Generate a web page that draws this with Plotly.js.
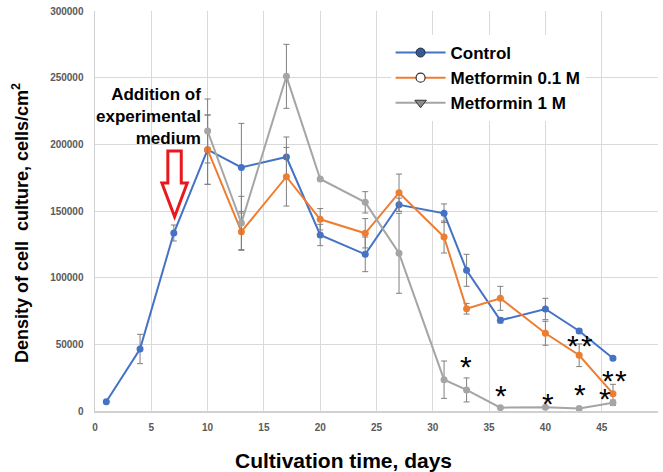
<!DOCTYPE html>
<html>
<head>
<meta charset="utf-8">
<script src="https://cdn.plot.ly/plotly-3.0.1.min.js"></script>
<style>html,body{margin:0;padding:0;background:#fff;}#chart{width:663px;height:472px;}</style>
</head>
<body>
<div id="chart"></div>
<script>
// ---- data ----
const controlDays = [1, 4, 7, 10, 13, 17, 20, 24, 27, 31, 33, 36, 40, 43, 46];
const controlValues = [7000, 46500, 133500, 196000, 182700, 190500, 132000, 117500, 154700, 148300, 105500, 68000, 76500, 60000, 39500];
const controlErrors = [0, 11000, 6000, 26000, 33000, 15000, 8000, 13000, 5000, 7000, 12000, 2000, 8000, 1500, 1000];

const met01Days = [10, 13, 17, 20, 24, 27, 31, 33, 36, 40, 43, 46];
const met01Values = [196000, 134500, 175700, 143800, 133300, 163700, 130500, 76700, 84500, 58300, 41800, 13000];
const met01Errors = [26000, 14000, 22000, 8000, 11000, 14000, 12000, 4000, 9000, 9000, 8500, 7000];

const met1Days = [10, 13, 17, 20, 24, 27, 31, 33, 36, 40, 43, 46];
const met1Values = [210000, 141000, 251000, 174000, 156500, 118300, 23500, 15800, 2500, 2800, 1800, 6200];
const met1Errors = [24000, 20000, 24000, 0, 8000, 30000, 14000, 9000, 0, 0, 0, 2000];

const seriesNames = ["Control", "Metformin 0.1 M", "Metformin 1 M"];
const xTicks = [0, 5, 10, 15, 20, 25, 30, 35, 40, 45, 50];
const yTicks = [0, 50000, 100000, 150000, 200000, 250000, 300000];

// significance marks (one asterisk each)
const starX = [32.95, 36.03, 40.2, 43.03, 45.33, 42.44, 43.65, 45.57, 46.75];
const starY = [36500, 14500, 9000, 15750, 12750, 52000, 52000, 26250, 26250];

// ---- styling ----
const colors = ["#4472C4", "#ED7D31", "#A5A5A5"];
const errColor = "#7F7F7F";
const FONT = "Liberation Sans, Arial, sans-serif";

function seriesTrace(x, y, e, color) {
  return {
    x: x, y: y, type: "scatter", mode: "lines+markers", showlegend: false,
    line: {color: color, width: 2},
    marker: {color: color, size: 7, symbol: "circle"},
    error_y: {type: "data", array: e, visible: true, color: errColor, thickness: 1, width: 3}
  };
}

const traces = [
  seriesTrace(controlDays, controlValues, controlErrors, colors[0]),
  seriesTrace(met01Days, met01Values, met01Errors, colors[1]),
  seriesTrace(met1Days, met1Values, met1Errors, colors[2]),
  {x: [null], y: [null], type: "scatter", mode: "lines+markers", name: seriesNames[0],
   line: {color: "#4472C4", width: 2}, marker: {symbol: "circle", size: 9, color: "#3A5A8C", line: {color: "#1F2F4F", width: 1}}},
  {x: [null], y: [null], type: "scatter", mode: "lines+markers", name: seriesNames[1],
   line: {color: "#ED7D31", width: 2}, marker: {symbol: "circle", size: 9, color: "#FFFFFF", line: {color: "#333333", width: 1.2}}},
  {x: [null], y: [null], type: "scatter", mode: "lines+markers", name: seriesNames[2],
   line: {color: "#A5A5A5", width: 2}, marker: {symbol: "triangle-down", size: 10, color: "#8C8C8C", line: {color: "#333333", width: 1}}}
];

const annotations = starX.map((sx, i) => ({
  x: sx, y: starY[i], xref: "x", yref: "y", text: "*", showarrow: false,
  font: {family: FONT, size: 30, color: "#000"}, yshift: -4
}));
annotations.push({
  x: 9.55, y: 221000, xref: "x", yref: "y", xanchor: "right", yanchor: "middle", align: "right",
  text: "Addition of<br>experimental<br>medium", showarrow: false,
  font: {family: FONT, size: 17, color: "#000", weight: "bold"}
});
annotations.push({
  x: 0.442, y: -0.1225, xref: "paper", yref: "paper", xanchor: "center", yanchor: "middle",
  text: "Cultivation time, days", showarrow: false,
  font: {family: FONT, size: 21, color: "#000", weight: "bold"}
});
annotations.push({
  x: -0.1332, y: 0.47, xref: "paper", yref: "paper", xanchor: "center", yanchor: "middle",
  textangle: -90,
  text: "Density of cell\u00a0 culture, cells/cm<sup>2</sup>", showarrow: false,
  font: {family: FONT, size: 18, color: "#000", weight: "bold"}
});

const layout = {
  width: 663, height: 472,
  margin: {l: 95, r: 5, t: 11, b: 61},
  paper_bgcolor: "#fff", plot_bgcolor: "#fff",
  font: {family: FONT},
  xaxis: {
    range: [0, 50], tickvals: xTicks, showgrid: true, gridcolor: "#D9D9D9", gridwidth: 1,
    zeroline: false, showline: true, linecolor: "#D0D0D0", linewidth: 1.5,
    tickfont: {family: FONT, size: 10, color: "#595959", weight: "bold"},
    ticklabelstandoff: 6, fixedrange: true
  },
  yaxis: {
    range: [0, 300000], tickvals: yTicks, tickformat: "d", showgrid: true, gridcolor: "#D9D9D9", gridwidth: 1,
    zeroline: false, showline: true, linecolor: "#D0D0D0", linewidth: 1.5,
    tickfont: {family: FONT, size: 10, color: "#595959", weight: "bold"},
    ticklabelstandoff: 8
  },
  legend: {
    x: 0.525, y: 0.94, xanchor: "left", yanchor: "top",
    bgcolor: "#FFFFFF", borderwidth: 0,
    font: {family: FONT, size: 17, color: "#000", weight: "bold"},
    itemwidth: 50
  },
  shapes: [{
    type: "path", xref: "x", yref: "y",
    path: "M 6.47 195000 L 7.66 195000 L 7.66 171000 L 8.19 171000 L 7.07 145700 L 5.94 171000 L 6.47 171000 Z",
    line: {color: "#E8191E", width: 3}, fillcolor: "rgba(255,255,255,1)"
  }],
  annotations: annotations
};

Plotly.newPlot("chart", traces, layout, {displayModeBar: false, staticPlot: true});
</script>
</body>
</html>
